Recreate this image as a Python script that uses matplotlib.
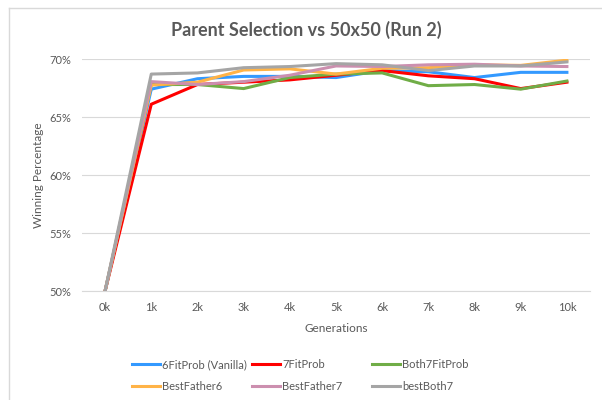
import matplotlib.pyplot as plt
from matplotlib.lines import Line2D
from matplotlib.ticker import FuncFormatter

plt.rcParams['font.family'] = ['Lato', 'DejaVu Sans']

# data (winning percentage per 1k generations)
generations = ['0k', '1k', '2k', '3k', '4k', '5k', '6k', '7k', '8k', '9k', '10k']
vanilla6 = [50.0, 67.4, 68.3, 68.5, 68.5, 68.4, 69.0, 68.9, 68.4, 68.85, 68.85]
fit7 = [50.0, 66.1, 67.8, 68.0, 68.2, 68.6, 69.0, 68.55, 68.3, 67.45, 68.0]
both7 = [50.0, 67.8, 67.8, 67.45, 68.4, 68.7, 68.8, 67.7, 67.8, 67.4, 68.1]
father6 = [50.0, 67.75, 68.0, 69.05, 69.15, 68.7, 69.2, 69.25, 69.5, 69.45, 69.9]
father7 = [50.0, 68.05, 67.8, 68.05, 68.6, 69.4, 69.35, 69.5, 69.55, 69.4, 69.35]
bestboth7 = [50.0, 68.7, 68.8, 69.25, 69.35, 69.6, 69.5, 69.0, 69.4, 69.4, 69.75]

series = [
    ('6FitProb (Vanilla)', vanilla6, '#3399FF'),
    ('7FitProb', fit7, '#FF0000'),
    ('Both7FitProb', both7, '#70AD47'),
    ('BestFather6', father6, '#FFB347'),
    ('BestFather7', father7, '#CC8FAF'),
    ('bestBoth7', bestboth7, '#A5A5A5'),
]

text_c = '#595959'
grid_c = '#D9D9D9'

fig = plt.figure(figsize=(6.02, 4.0), dpi=100)
ax = fig.add_axes([82 / 602, 1 - 291 / 400, 508 / 602, 232 / 400])

x = list(range(len(generations)))
lines = {}
for name, vals, col in series:
    ln, = ax.plot(x, vals, color=col, linewidth=2.2, solid_joinstyle='round', label=name)
    lines[name] = ln
# grey line is drawn on top in the reference
lines['bestBoth7'].set_zorder(3)

ax.set_xlim(-0.5, len(generations) - 0.5)
ax.set_ylim(50, 70)
ax.set_yticks([50, 55, 60, 65, 70])
ax.yaxis.set_major_formatter(FuncFormatter(lambda v, p: f'{v:.0f}%'))
ax.set_xticks(x)
ax.set_xticklabels(generations)
ax.tick_params(length=0, labelsize=8, colors=text_c, pad=8)
ax.grid(axis='y', color=grid_c, linewidth=0.8)
ax.set_axisbelow(True)
for s in ['top', 'right', 'left']:
    ax.spines[s].set_visible(False)
ax.spines['bottom'].set_color(grid_c)

fig.text(306 / 602, 1 - 30 / 400, 'Parent Selection vs 50x50 (Run 2)', ha='center', va='center',
         fontsize=13, fontweight='bold', color=text_c)
fig.text(38 / 602, 1 - 175 / 400, 'Winning Percentage', rotation=90, ha='center', va='center',
         fontsize=8.5, color=text_c)
fig.text(336 / 602, 1 - 328 / 400, 'Generations', ha='center', va='center', fontsize=8.5, color=text_c)

# legend: three columns at fixed positions
col_x = [132, 252, 372]
for j in range(3):
    top, bottom = series[j], series[j + 3]
    handles = [Line2D([], [], color=top[2], linewidth=2.2), Line2D([], [], color=bottom[2], linewidth=2.2)]
    fig.legend(handles, [top[0], bottom[0]], loc='upper left', bbox_to_anchor=(col_x[j] / 602, 1 - 359 / 400),
               frameon=False, fontsize=8, labelcolor=text_c, handlelength=2.5, handletextpad=0.2,
               labelspacing=0.95, borderpad=0, borderaxespad=0)

# chart border visible at top and left
fig.add_artist(Line2D([9 / 602, 9 / 602], [0, 1 - 8 / 400], color=grid_c, linewidth=1))
fig.add_artist(Line2D([9 / 602, 1], [1 - 8 / 400, 1 - 8 / 400], color=grid_c, linewidth=1))

fig.savefig('out.png', dpi=100)
